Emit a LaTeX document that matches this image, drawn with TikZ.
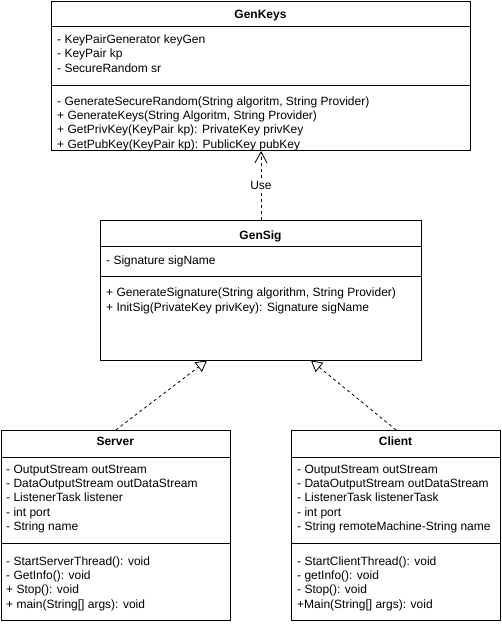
\documentclass[tikz,border=0pt]{standalone}
\usepackage{fontspec}
\setmainfont{Liberation Sans}
\usetikzlibrary{positioning, calc, arrows.meta}
\definecolor{umlLine}{RGB}{0, 0, 0}
\definecolor{umlFill}{RGB}{255, 255, 255}
\tikzset{
    base/.style={
        font=\fontsize{12}{14.3}\selectfont,
        inner sep=0pt
    },
    classbox/.style={
        rectangle,
        draw=umlLine,
        line width=1pt,
        fill=umlFill,
        anchor=north west,
        inner sep=0pt
    },
    classname/.style={
        base,
        font=\fontsize{12}{14.3}\selectfont\bfseries,
        anchor=base
    },
    members/.style={
        base,
        align=left,
        anchor=base west
    },
    realize/.style={
        -{Triangle[open, length=11pt, width=12pt]},
        line width=0.8pt,
        dash pattern=on 3pt off 3pt,
        color=umlLine
    },
    uses/.style={
        -{Straight Barb[length=11pt, width=12pt]},
        line width=0.8pt,
        dash pattern=on 3pt off 3pt,
        color=umlLine
    },
    edgelabel/.style={
        base,
        fill=umlFill,
        inner sep=1pt
    }
}

\begin{document}
\begin{tikzpicture}[x=1pt, y=-1pt]
  % Canvas
  \fill[umlFill] (0,0) rectangle (501,624);
  \useasboundingbox (0,0) rectangle (501,624);

  % GenKeys (members placed by the baseline of their last line)
  \node[classbox, minimum width=419pt, minimum height=149pt] (genkeys) at (51,1) {};
  \draw[line width=1pt] (genkeys.north west) ++(0,25) -- ++(419,0);
  \draw[line width=1pt] (genkeys.north west) ++(0,84) -- ++(419,0);
  \node[classname] (genkeysname) at (260.5,18.5) {GenKeys};
  \node[members] (genkeysattr) at (57,72) {- KeyPairGenerator keyGen\\- KeyPair kp\\- SecureRandom sr};
  \node[members] (genkeysops) at (57,148) {- GenerateSecureRandom(String algoritm, String Provider)\\+ GenerateKeys(String Algoritm, String Provider)\\+ GetPrivKey(KeyPair kp): PrivateKey privKey\\+ GetPubKey(KeyPair kp): PublicKey pubKey};

  % GenSig
  \node[classbox, minimum width=321pt, minimum height=140pt] (gensig) at (100,220) {};
  \draw[line width=1pt] (gensig.north west) ++(0,26) -- ++(321,0);
  \draw[line width=1pt] (gensig.north west) ++(0,56) -- ++(321,0);
  \node[classname] (gensigname) at (260.5,239.5) {GenSig};
  \node[members] (gensigattr) at (106,264) {- Signature sigName};
  \node[members] (gensigops) at (106,311) {+ GenerateSignature(String algorithm, String Provider)\\+ InitSig(PrivateKey privKey): Signature sigName};

  % Server
  \node[classbox, minimum width=229.5pt, minimum height=190pt] (server) at (0.5,430) {};
  \draw[line width=1pt] (server.north west) ++(0,27) -- ++(229.5,0);
  \draw[line width=1pt] (server.north west) ++(0,113) -- ++(229.5,0);
  \node[classname] (servername) at (115.25,445) {Server};
  \node[members] (serverattr) at (6,530.5) {- OutputStream outStream\\- DataOutputStream outDataStream\\- ListenerTask listener\\- int port\\- String name};
  \node[members] (serverops) at (6,608) {- StartServerThread(): void\\- GetInfo(): void\\+ Stop(): void\\+ main(String[] args): void};

  % Client
  \node[classbox, minimum width=209pt, minimum height=190pt] (client) at (291,430) {};
  \draw[line width=1pt] (client.north west) ++(0,27) -- ++(209,0);
  \draw[line width=1pt] (client.north west) ++(0,113) -- ++(209,0);
  \node[classname] (clientname) at (395.5,445) {Client};
  \node[members] (clientattr) at (297,530.5) {- OutputStream outStream\\- DataOutputStream outDataStream\\- ListenerTask listenerTask\\- int port\\- String remoteMachine-String name};
  \node[members] (clientops) at (297,608) {- StartClientThread(): void\\- getInfo(): void\\- Stop(): void\\+Main(String[] args): void};

  % Connectors
  \coordinate (sigleft) at (207,360.5);
  \coordinate (sigright) at (311,360.5);
  \draw[uses] (gensig.north) -- node[edgelabel, pos=0.5] (uselabel) {Use} (genkeys.south);
  \draw[realize] (server.north) -- (sigleft);
  \draw[realize] (client.north) -- (sigright);
\end{tikzpicture}
\end{document}
